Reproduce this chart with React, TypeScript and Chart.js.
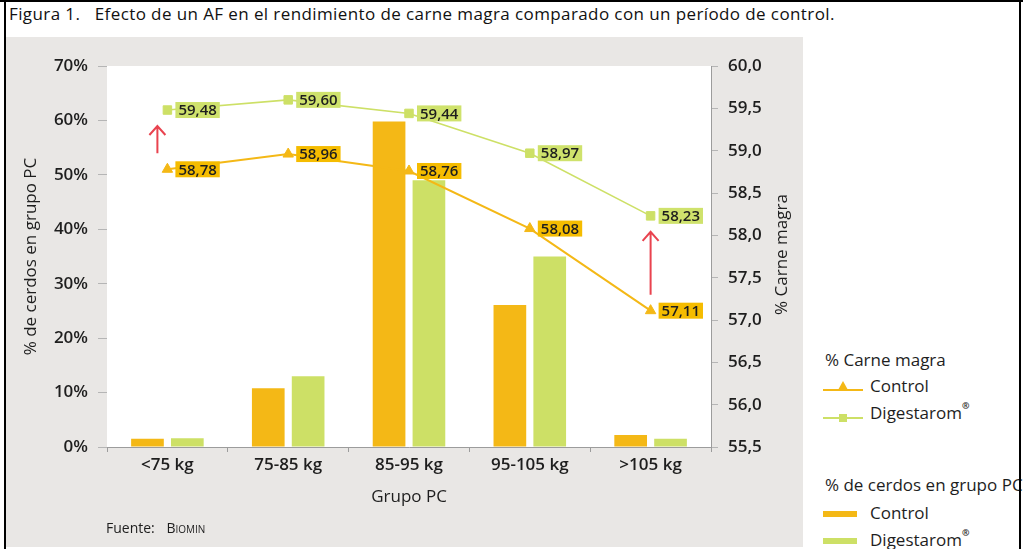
import React, { useEffect, useRef } from "react";
import { Chart, registerables } from "chart.js";

Chart.register(...registerables);

// ---------- data ----------
const categories = ["<75 kg", "75-85 kg", "85-95 kg", "95-105 kg", ">105 kg"];
const pigsControl = [1.5, 10.8, 59.8, 26.1, 2.2];
const pigsDigestarom = [1.6, 13.0, 49.0, 35.0, 1.5];
const leanControl = [58.78, 58.96, 58.76, 58.08, 57.11];
const leanDigestarom = [59.48, 59.6, 59.44, 58.97, 58.23];
const leftAxis = { min: 0, max: 70, step: 10 };
const rightAxis = { min: 55.5, max: 60, step: 0.5 };
const arrowCategories = [0, 4];
const rightAxisTitle = "% Carne magra";

// ---------- styles ----------
const ORANGE = "#f4b816";
const GREEN = "#cde066";
const ORANGE_LABEL = "#f5bc00";
const GREEN_LABEL = "#cfe26c";
const RED = "#e9434f";
const GREY_PANEL = "#e9e7e5";
const AXIS = "#9c9c9c";
const TEXT = "#1e1e1e";
const FONT = '"Open Sans", "DejaVu Sans", sans-serif';
const ARROW_DX = [-10, 0];

const whiteArea = {
  id: "whiteArea",
  beforeDraw(chart: any) {
    const { ctx, chartArea } = chart;
    ctx.save();
    ctx.fillStyle = "#ffffff";
    ctx.fillRect(chartArea.left, chartArea.top, chartArea.right - chartArea.left, chartArea.bottom - chartArea.top);
    ctx.restore();
  },
};

const rightTitle = {
  id: "rightTitle",
  afterDraw(chart: any) {
    const { ctx } = chart;
    const s = chart.scales.y1;
    ctx.save();
    ctx.font = `17px ${FONT}`;
    ctx.fillStyle = TEXT;
    ctx.textAlign = "center";
    ctx.textBaseline = "middle";
    ctx.translate(s.right - 21, (s.top + s.bottom) / 2 - 2);
    ctx.rotate(-Math.PI / 2);
    ctx.fillText(rightAxisTitle, 0, 0);
    ctx.restore();
  },
};

const annotations = {
  id: "annotations",
  afterDatasetsDraw(chart: any) {
    const { ctx } = chart;
    const xs = chart.scales.x;
    const ys = chart.scales.y1;
    // red arrows
    ctx.save();
    ctx.strokeStyle = RED;
    ctx.lineWidth = 2;
    arrowCategories.forEach((idx, k) => {
      const px = xs.getPixelForValue(idx) + ARROW_DX[k];
      const yb = ys.getPixelForValue(leanControl[idx]) - 16;
      const yt = ys.getPixelForValue(leanDigestarom[idx]) + 16;
      ctx.beginPath();
      ctx.moveTo(px, yb);
      ctx.lineTo(px, yt);
      ctx.moveTo(px - 8, yt + 9);
      ctx.lineTo(px, yt);
      ctx.lineTo(px + 8, yt + 9);
      ctx.stroke();
    });
    ctx.restore();
    // value labels
    ctx.save();
    ctx.font = `600 15px ${FONT}`;
    ctx.textBaseline = "middle";
    ctx.textAlign = "left";
    chart.data.datasets.forEach((ds: any, i: number) => {
      if (ds.type !== "line") return;
      const meta = chart.getDatasetMeta(i);
      meta.data.forEach((pt: any, j: number) => {
        const txt = Number(ds.data[j]).toFixed(2).replace(".", ",");
        const w = ctx.measureText(txt).width + 6;
        const h = 16;
        const x = pt.x + 8;
        const y = pt.y;
        ctx.fillStyle = ds.labelBg;
        ctx.fillRect(x, y - h / 2, w, h);
        ctx.fillStyle = TEXT;
        ctx.fillText(txt, x + 3, y + 1);
      });
    });
    ctx.restore();
  },
};

function ChartCanvas() {
  const ref = useRef<HTMLCanvasElement | null>(null);
  useEffect(() => {
    if (!ref.current) return;
    const tickFont = { family: FONT, size: 17, weight: "600" as any };
    const titleFont = { family: FONT, size: 17, weight: "normal" as any };
    const chart = new Chart(ref.current, {
      type: "bar",
      data: {
        labels: categories,
        datasets: [
          {
            type: "line",
            label: "Control",
            data: leanControl,
            yAxisID: "y1",
            borderColor: ORANGE,
            backgroundColor: ORANGE,
            borderWidth: 2,
            pointStyle: "triangle",
            pointRadius: 6,
            pointBorderWidth: 1,
            pointBorderColor: ORANGE,
            pointBackgroundColor: ORANGE,
            tension: 0,
            order: 1,
            labelBg: ORANGE_LABEL,
          } as any,
          {
            type: "line",
            label: "Digestarom®",
            data: leanDigestarom,
            yAxisID: "y1",
            borderColor: GREEN,
            backgroundColor: GREEN,
            borderWidth: 1.6,
            pointStyle: "rect",
            pointRadius: 6,
            pointBorderWidth: 1,
            pointBorderColor: GREEN,
            pointBackgroundColor: GREEN,
            tension: 0,
            order: 1,
            labelBg: GREEN_LABEL,
          } as any,
          {
            type: "bar",
            label: "Control",
            data: pigsControl,
            yAxisID: "y",
            backgroundColor: ORANGE,
            categoryPercentage: 0.66,
            barPercentage: 0.82,
            order: 2,
          },
          {
            type: "bar",
            label: "Digestarom®",
            data: pigsDigestarom,
            yAxisID: "y",
            backgroundColor: GREEN,
            categoryPercentage: 0.66,
            barPercentage: 0.82,
            order: 2,
          },
        ],
      },
      options: {
        responsive: false,
        animation: false,
        layout: { padding: { top: 29, left: 0, right: 0, bottom: 0 } },
        plugins: { legend: { display: false }, tooltip: { enabled: false } },
        scales: {
          x: {
            offset: true,
            grid: { display: true, drawOnChartArea: false, drawTicks: true, tickLength: 5, color: AXIS, offset: true },
            border: { display: true, color: AXIS },
            ticks: { font: tickFont, color: TEXT, padding: 3, maxRotation: 0 },
            title: { display: true, text: "Grupo PC", font: titleFont, color: TEXT, padding: { top: 0, bottom: 42 } },
            afterFit: (s: any) => {
              s.height = 102;
            },
          },
          y: {
            position: "left",
            min: leftAxis.min,
            max: leftAxis.max,
            ticks: {
              stepSize: leftAxis.step,
              font: tickFont,
              color: TEXT,
              padding: 10,
              callback: (v: any) => `${v}%`,
            },
            grid: { display: true, drawOnChartArea: false, tickLength: 9, color: "#b5b5b5" },
            border: { display: false },
            title: { display: true, text: "% de cerdos en grupo PC", font: titleFont, color: TEXT, padding: { top: 15, bottom: 0 } },
            afterFit: (s: any) => {
              s.width = 101;
            },
          },
          y1: {
            position: "right",
            min: rightAxis.min,
            max: rightAxis.max,
            ticks: {
              stepSize: rightAxis.step,
              font: tickFont,
              color: TEXT,
              padding: 10,
              callback: (v: any) => Number(v).toFixed(1).replace(".", ","),
            },
            grid: { display: true, drawOnChartArea: false, tickLength: 7, color: "#b5b5b5" },
            border: { display: true, color: AXIS },
            title: { display: false },
            afterFit: (s: any) => {
              s.width = 92;
            },
          },
        },
      } as any,
      plugins: [whiteArea, annotations, rightTitle],
    });
    return () => chart.destroy();
  }, []);
  return <canvas ref={ref} width={797} height={512} style={{ position: "absolute", left: 6, top: 37, width: 797, height: 512 }} />;
}

const legendText = (left: number, cy: number, content: React.ReactNode) => (
  <div
    style={{
      position: "absolute",
      left,
      top: cy - 12,
      height: 24,
      lineHeight: "24px",
      font: `17px ${FONT}`,
      color: TEXT,
      whiteSpace: "nowrap",
    }}
  >
    {content}
  </div>
);

const Reg = () => <span style={{ fontSize: 9, verticalAlign: "top", position: "relative", top: -2, fontWeight: 700 }}>®</span>;

export default function App() {
  return (
    <div
      style={{
        position: "absolute",
        left: 0,
        top: 0,
        width: 1023,
        height: 549,
        background: "#ffffff",
        overflow: "hidden",
        fontFamily: FONT,
      }}
    >
      <div
        style={{
          position: "absolute",
          left: 9,
          top: 3,
          font: `17px ${FONT}`,
          letterSpacing: "0.4px",
          color: "#111",
          whiteSpace: "pre",
          lineHeight: "22px",
        }}
      >
        {"Figura 1.   Efecto de un AF en el rendimiento de carne magra comparado con un período de control."}
      </div>
      <div style={{ position: "absolute", left: 6, top: 37, width: 797, height: 510, background: GREY_PANEL }} />
      <ChartCanvas />
      <div
        style={{
          position: "absolute",
          left: 106,
          top: 519,
          font: `14px ${FONT}`,
          color: TEXT,
          whiteSpace: "nowrap",
          lineHeight: "18px",
        }}
      >
        Fuente: <span style={{ fontVariant: "small-caps", marginLeft: 8 }}>Biomin</span>
      </div>

      {/* legend */}
      {legendText(825, 360, "% Carne magra")}
      <div style={{ position: "absolute", left: 823, top: 389, width: 40, height: 2, background: ORANGE }} />
      <div
        style={{
          position: "absolute",
          left: 838,
          top: 381,
          width: 0,
          height: 0,
          borderLeft: "5px solid transparent",
          borderRight: "5px solid transparent",
          borderBottom: `9px solid ${ORANGE}`,
        }}
      />
      {legendText(870, 386, "Control")}
      <div style={{ position: "absolute", left: 823, top: 417, width: 40, height: 2, background: GREEN }} />
      <div style={{ position: "absolute", left: 839, top: 414, width: 8, height: 8, background: GREEN }} />
      {legendText(870, 413, <>Digestarom<Reg /></>)}

      {legendText(825, 485, "% de cerdos en grupo PC")}
      <div style={{ position: "absolute", left: 823, top: 511, width: 34, height: 6, background: ORANGE }} />
      {legendText(870, 513, "Control")}
      <div style={{ position: "absolute", left: 823, top: 538, width: 34, height: 6, background: GREEN }} />
      {legendText(870, 540, <>Digestarom<Reg /></>)}

      {/* frame */}
      <div style={{ position: "absolute", left: 0, top: 0, width: 1023, height: 2, background: "#000" }} />
      <div style={{ position: "absolute", left: 4, top: 0, width: 2, height: 549, background: "#000" }} />
      <div style={{ position: "absolute", left: 1019, top: 0, width: 2, height: 549, background: "#000" }} />
    </div>
  );
}
